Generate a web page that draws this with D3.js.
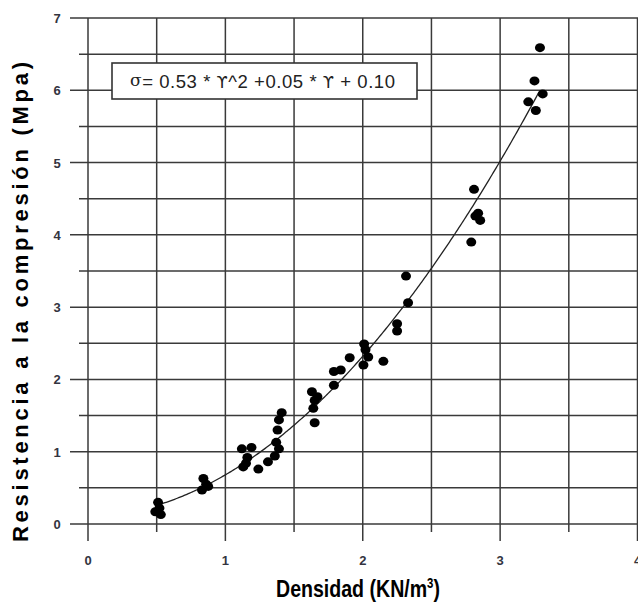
<!DOCTYPE html>
<html>
<head>
<meta charset="utf-8">
<script src="https://cdn.jsdelivr.net/npm/d3@7"></script>
<style>
  body { margin: 0; background: #fff; }
  svg { display: block; }
</style>
</head>
<body>
<svg id="chart" width="638" height="603"></svg>
<script>
// densidad (KN/m3) vs resistencia (Mpa)
const densidad = [0.49, 0.51, 0.53, 0.52, 0.83, 0.84, 0.86, 0.875,
    1.12, 1.19, 1.16, 1.15, 1.13, 1.24, 1.31, 1.36, 1.39, 1.37, 1.38, 1.39, 1.41,
    1.65, 1.64, 1.65, 1.63, 1.67, 1.79, 1.79, 1.84, 1.905,
    2.01, 2.02, 2.04, 2.005, 2.15, 2.25, 2.25, 2.33, 2.315,
    2.79, 2.81, 2.82, 2.84, 2.855, 3.205, 3.26, 3.31, 3.25, 3.29]
const resistencia = [0.17, 0.30, 0.13, 0.22, 0.47, 0.63, 0.55, 0.52,
    1.04, 1.06, 0.92, 0.84, 0.79, 0.76, 0.86, 0.94, 1.04, 1.13, 1.30, 1.44, 1.54,
    1.40, 1.60, 1.71, 1.83, 1.76, 1.92, 2.11, 2.13, 2.30,
    2.49, 2.41, 2.31, 2.20, 2.25, 2.77, 2.67, 3.06, 3.43,
    3.90, 4.63, 4.26, 4.30, 4.20, 5.84, 5.72, 5.95, 6.13, 6.59]

// fit: sigma = a*g^2 + b*g + c
const coef = [0.53, 0.05, 0.10]
const fitRange = [0.53, 3.28]

const xTicks = [0, 1, 2, 3, 4]
const yTicks = [0, 1, 2, 3, 4, 5, 6, 7]
const xGrid = [0, 0.5, 1, 1.5, 2, 2.5, 3, 3.5, 4]
const yGrid = [0, 0.5, 1, 1.5, 2, 2.5, 3, 3.5, 4, 4.5, 5, 5.5, 6, 6.5, 7]

const GRID = "#3a3a3a",
    LABEL = "#33343f",
    FONT = "'Liberation Sans', Arial, sans-serif"

let svg = d3.select("#chart")

let x = d3.scaleLinear().domain([0, 4]).range([88, 637.5]),
    y = d3.scaleLinear().domain([0, 7]).range([524, 18])

// grid
let grid = svg.append("g")
    .style("stroke", GRID)
    .style("stroke-width", 1.5)

grid.selectAll("line.h")
    .data(yGrid)
    .join("line")
    .attr("class", "h")
    .attr("x1", d => Number.isInteger(d) ? x(0) - 18 : x(0) - 9)
    .attr("x2", 638)
    .attr("y1", d => y(d))
    .attr("y2", d => y(d))

grid.selectAll("line.v")
    .data(xGrid)
    .join("line")
    .attr("class", "v")
    .attr("x1", d => x(d))
    .attr("x2", d => x(d))
    .attr("y1", y(7))
    .attr("y2", d => Number.isInteger(d) ? y(0) + 17 : y(0) + 8)

// tick labels
svg.append("g")
    .selectAll("text")
    .data(yTicks)
    .join("text")
    .text(d => d)
    .attr("x", 57)
    .attr("y", d => y(d) + 5)
    .attr("text-anchor", "middle")
    .style("font-family", FONT)
    .style("font-weight", "bold")
    .style("font-size", "13px")
    .style("fill", LABEL)

svg.append("g")
    .selectAll("text")
    .data(xTicks)
    .join("text")
    .text(d => d)
    .attr("x", d => x(d))
    .attr("y", 565)
    .attr("text-anchor", "middle")
    .style("font-family", FONT)
    .style("font-weight", "bold")
    .style("font-size", "13px")
    .style("fill", LABEL)

// fit curve
let fit = d3.range(fitRange[0], fitRange[1] + 0.001, 0.01)
    .map(g => [g, coef[0] * g * g + coef[1] * g + coef[2]])

svg.append("path")
    .datum(fit)
    .attr("d", d3.line().x(d => x(d[0])).y(d => y(d[1])))
    .style("fill", "none")
    .style("stroke", "#222")
    .style("stroke-width", 1.3)

// points
svg.append("g")
    .selectAll("ellipse")
    .data(densidad.map((d, i) => [d, resistencia[i]]))
    .join("ellipse")
    .attr("cx", d => x(d[0]))
    .attr("cy", d => y(d[1]))
    .attr("rx", 5)
    .attr("ry", 4.5)
    .style("fill", "#000")

// equation box
svg.append("rect")
    .attr("x", 112)
    .attr("y", 63)
    .attr("width", 305)
    .attr("height", 36)
    .style("fill", "#fff")
    .style("stroke", "#333")
    .style("stroke-width", 1.6)

let eq = svg.append("text")
    .attr("x", 130)
    .attr("y", 88)
    .style("font-family", FONT)
    .style("font-size", "18.5px")
    .style("fill", "#222")
    .attr("textLength", 265)
    .attr("lengthAdjust", "spacing")

eq.append("tspan").text("σ").style("font-family", "'DejaVu Serif', serif").style("font-size", "17px").attr("dy", -2)
eq.append("tspan").text("= 0.53 * ").attr("dy", 2)
eq.append("tspan").text("ϒ").style("font-family", "'DejaVu Sans', sans-serif").style("font-size", "16px")
eq.append("tspan").text("^2 +0.05 * ")
eq.append("tspan").text("ϒ").style("font-family", "'DejaVu Sans', sans-serif").style("font-size", "16px")
eq.append("tspan").text(" + 0.10")

// axis titles
svg.append("text")
    .text("Resistencia a la compresión (Mpa)")
    .attr("transform", "translate(28, 302) rotate(-90)")
    .attr("text-anchor", "middle")
    .attr("textLength", 480)
    .attr("lengthAdjust", "spacing")
    .style("font-family", FONT)
    .style("font-weight", "bold")
    .style("font-size", "22px")
    .style("fill", "#000")

let xt = svg.append("text")
    .attr("x", 276)
    .attr("y", 597)
    .attr("textLength", 164)
    .attr("lengthAdjust", "spacingAndGlyphs")
    .style("font-family", "'Liberation Sans Narrow', 'Liberation Sans', Arial, sans-serif")
    .style("font-weight", "bold")
    .style("font-size", "24px")
    .style("fill", "#000")

xt.append("tspan").text("Densidad (KN/m")
xt.append("tspan").text("3").attr("dy", -9).style("font-size", "14px")
xt.append("tspan").text(")").attr("dy", 9)
</script>
</body>
</html>
